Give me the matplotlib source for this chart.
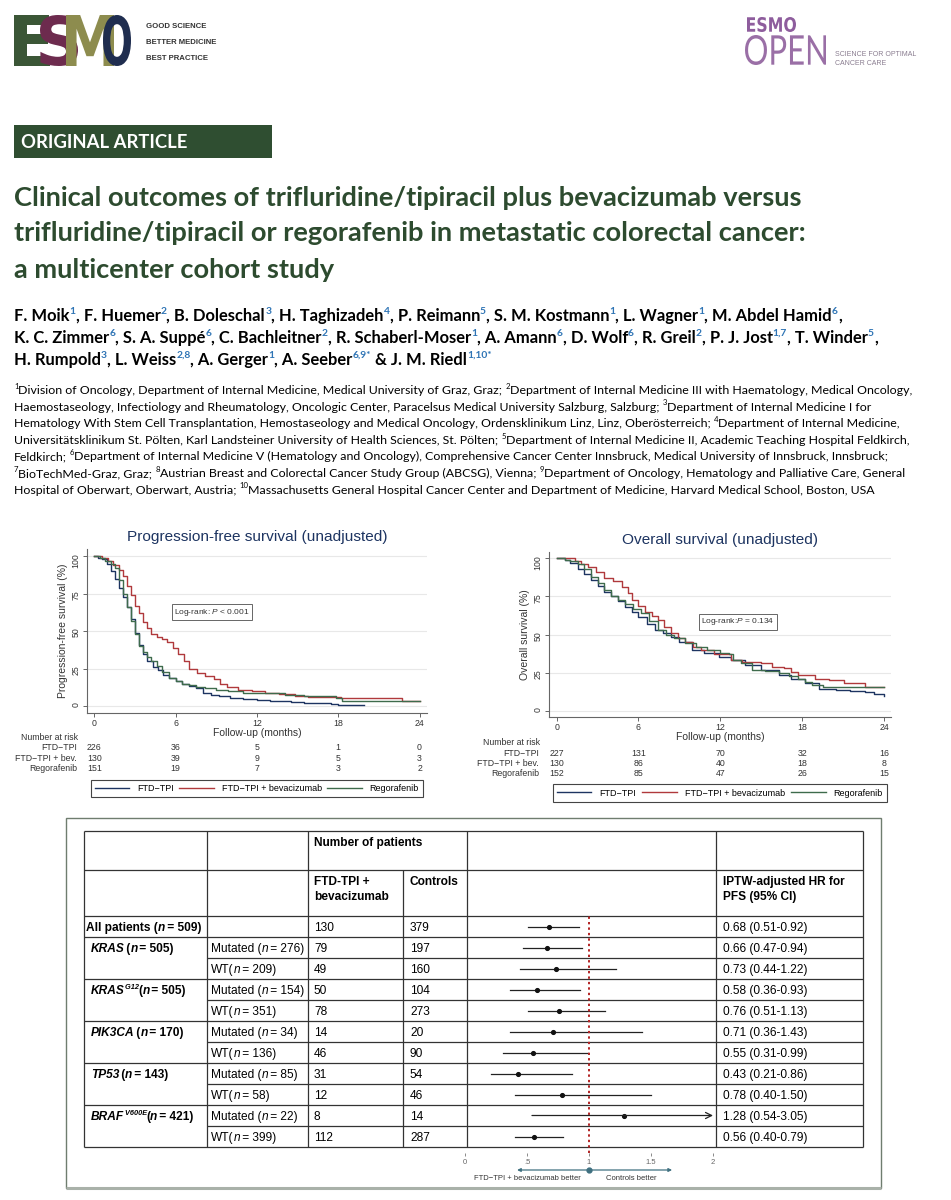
import re

import matplotlib.pyplot as plt
import numpy as np
from matplotlib import font_manager
from matplotlib.font_manager import FontProperties
from matplotlib.patches import PathPatch, Rectangle
from matplotlib.textpath import TextPath
from matplotlib.transforms import Affine2D, blended_transform_factory

# ---------------- page text ----------------
title_lines = [
    "Clinical outcomes of trifluridine/tipiracil plus bevacizumab versus",
    "trifluridine/tipiracil or regorafenib in metastatic colorectal cancer:",
    "a multicenter cohort study",
]

author_lines = [
    [("F. Moik", "1"), ("F. Huemer", "2"), ("B. Doleschal", "3"), ("H. Taghizadeh", "4"),
     ("P. Reimann", "5"), ("S. M. Kostmann", "1"), ("L. Wagner", "1"), ("M. Abdel Hamid", "6")],
    [("K. C. Zimmer", "6"), ("S. A. Suppé", "6"), ("C. Bachleitner", "2"), ("R. Schaberl-Moser", "1"),
     ("A. Amann", "6"), ("D. Wolf", "6"), ("R. Greil", "2"), ("P. J. Jost", "1,7"), ("T. Winder", "5")],
    [("H. Rumpold", "3"), ("L. Weiss", "2,8"), ("A. Gerger", "1"), ("A. Seeber", "6,9*"),
     ("J. M. Riedl", "1,10*")],
]

affiliation_lines = [
    "{1}Division of Oncology, Department of Internal Medicine, Medical University of Graz, Graz; {2}Department of Internal Medicine III with Haematology, Medical Oncology,",
    "Haemostaseology, Infectiology and Rheumatology, Oncologic Center, Paracelsus Medical University Salzburg, Salzburg; {3}Department of Internal Medicine I for",
    "Hematology With Stem Cell Transplantation, Hemostaseology and Medical Oncology, Ordensklinikum Linz, Linz, Oberösterreich; {4}Department of Internal Medicine,",
    "Universitätsklinikum St. Pölten, Karl Landsteiner University of Health Sciences, St. Pölten; {5}Department of Internal Medicine II, Academic Teaching Hospital Feldkirch,",
    "Feldkirch; {6}Department of Internal Medicine V (Hematology and Oncology), Comprehensive Cancer Center Innsbruck, Medical University of Innsbruck, Innsbruck;",
    "{7}BioTechMed-Graz, Graz; {8}Austrian Breast and Colorectal Cancer Study Group (ABCSG), Vienna; {9}Department of Oncology, Hematology and Palliative Care, General",
    "Hospital of Oberwart, Oberwart, Austria; {10}Massachusetts General Hospital Cancer Center and Department of Medicine, Harvard Medical School, Boston, USA",
]

# ---------------- Kaplan-Meier curves (months, % event free) ----------------
arm_labels = ["FTD\u2212TPI", "FTD\u2212TPI + bevacizumab", "Regorafenib"]
arm_short = ["FTD\u2212TPI", "FTD\u2212TPI + bev.", "Regorafenib"]
risk_times = [0, 6, 12, 18, 24]

pfs_ftd_t = [0, 0.3, 0.6, 0.9, 1.2, 1.5, 1.8, 2.1, 2.4, 2.7, 3.0, 3.3, 3.6, 3.9, 4.3, 4.7, 5.1, 5.5, 6.0, 6.5,
             7.0, 7.5, 8.0, 8.6, 9.2, 10.0, 11.0, 12.0, 13.0, 14.5, 15.5, 17.5, 18.0, 19.9]
pfs_ftd_s = [100, 99, 98, 95, 90, 85, 79, 73, 66, 58, 49, 41, 35, 30, 26, 24, 21, 19, 17, 15,
             13.5, 12, 9, 7.5, 6.5, 5.5, 4.8, 4.2, 3.5, 2.5, 1.8, 1.6, 0.9, 0.9]
pfs_bev_t = [0, 0.6, 1.0, 1.4, 1.8, 2.1, 2.4, 2.7, 3.0, 3.3, 3.6, 3.9, 4.2, 4.6, 5.0, 5.4, 5.8, 6.2, 6.6, 7.0,
             7.6, 8.2, 8.8, 9.3, 9.8, 10.6, 11.6, 12.6, 13.6, 14.8, 15.8, 18.2, 22.7, 24]
pfs_bev_s = [100, 99, 97, 94, 91, 87, 80, 74, 67, 62, 56, 52, 48, 46, 45, 43, 39, 35, 30, 25,
             22, 20, 18, 15, 12.5, 11, 10, 9, 8, 7, 6, 5, 3.6, 3.6]
pfs_reg_t = [0, 0.4, 0.8, 1.2, 1.5, 1.8, 2.1, 2.4, 2.7, 3.0, 3.3, 3.6, 3.9, 4.2, 4.6, 5.0, 5.5, 6.0, 6.5, 7.0,
             7.5, 8.2, 9.0, 9.9, 11.0, 12.5, 14.1, 15.5, 17.8, 18.3, 24]
pfs_reg_s = [100, 99, 97, 95, 92, 84, 75, 66, 57, 48, 40, 36, 33, 30, 27, 23, 19, 17, 15, 14,
             13, 12, 11, 9.8, 9, 8.5, 7.5, 6.5, 5.3, 3.5, 3.5]
pfs_at_risk = [[226, 36, 5, 1, 0], [130, 39, 9, 5, 3], [151, 19, 7, 3, 2]]

os_ftd_t = [0, 0.6, 1.0, 1.6, 2.0, 2.5, 3.0, 3.5, 4.0, 4.5, 5.0, 5.5, 6.0, 6.6, 7.2, 7.8, 8.4, 9.0, 9.9, 10.8,
            11.9, 12.8, 13.8, 15.0, 16.3, 17.2, 18.2, 19.2, 20.5, 21.5, 22.6, 23.3, 24]
os_ftd_s = [100, 99, 97, 93, 90, 86, 82, 78, 75, 72, 68, 65, 61.7, 57, 53, 51, 48.6, 45, 40, 38,
            35.4, 33, 30, 27, 23.4, 20.5, 17.9, 14.5, 13.6, 13, 12.5, 11, 9.6]
os_bev_t = [0, 1.35, 1.8, 2.3, 2.9, 3.5, 4.1, 4.8, 5.2, 5.5, 6.0, 6.5, 7.0, 7.45, 7.9, 8.4, 8.9, 9.4, 10.0, 10.6,
            11.5, 12.8, 13.6, 15.0, 15.8, 16.7, 17.2, 17.7, 18.95, 20.0, 21.1, 22.6, 24]
os_bev_s = [100, 98, 96, 94, 91, 87, 85, 81, 77, 72.6, 69, 65, 62, 59.5, 55, 50.8, 48, 45, 42, 39.8,
            37, 33, 32, 31, 29, 27.8, 25.5, 23.4, 21, 20, 17.9, 15.7, 15.7]
os_reg_t = [0, 0.6, 1.0, 1.6, 2.0, 2.5, 3.0, 3.5, 4.0, 4.5, 5.0, 5.6, 6.2, 6.8, 7.4, 8.0, 8.6, 9.4, 10.2, 11.0,
            12.0, 12.6, 12.9, 13.5, 14.3, 15.3, 16.3, 17.0, 17.7, 18.2, 18.7, 19.5, 24]
os_reg_s = [100, 99, 98, 96, 93, 88, 84, 79, 75.5, 72.6, 70, 67, 63.9, 59, 53, 50, 47.5, 44.4, 42, 40,
            38, 37, 33.5, 31, 27, 26, 24.5, 23, 21, 19, 16.8, 15.7, 15.7]
os_at_risk = [[227, 131, 70, 32, 16], [130, 86, 40, 18, 8], [152, 85, 47, 26, 15]]

# ---------------- subgroup forest table ----------------
all_n = 509
genes = ["KRAS", "KRAS", "PIK3CA", "TP53", "BRAF"]
gene_sup = ["", "G12", "", "", "V600E"]
gene_n = [505, 505, 170, 143, 421]
sub_kind = ["", "Mutated", "WT", "Mutated", "WT", "Mutated", "WT", "Mutated", "WT", "Mutated", "WT"]
sub_n = [None, 276, 209, 154, 351, 34, 136, 85, 58, 22, 399]
n_bev = [130, 79, 49, 50, 78, 14, 46, 31, 12, 8, 112]
n_ctrl = [379, 197, 160, 104, 273, 20, 90, 54, 46, 14, 287]
hr = [0.68, 0.66, 0.73, 0.58, 0.76, 0.71, 0.55, 0.43, 0.78, 1.28, 0.56]
hr_lo = [0.51, 0.47, 0.44, 0.36, 0.51, 0.36, 0.31, 0.21, 0.40, 0.54, 0.40]
hr_hi = [0.92, 0.94, 1.22, 0.93, 1.13, 1.43, 0.99, 0.86, 1.50, 3.05, 0.79]
hr_ticks = [0, 0.5, 1, 1.5, 2]
hr_tick_labels = ["0", ".5", "1", "1.5", "2"]

# ---------------- styling ----------------
W, H = 951, 1200
GREEN_DARK = "#2d4b2f"
NAVY = "#1d3461"
arm_colors = [NAVY, "#b0393c", "#3e6b4c"]

plt.rcParams["font.family"] = "Liberation Sans"
plt.rcParams["mathtext.fontset"] = "custom"
plt.rcParams["mathtext.rm"] = "Liberation Sans"
plt.rcParams["mathtext.it"] = "Liberation Sans:italic"

installed = {f.name for f in font_manager.fontManager.ttflist}
NARROW = "Liberation Sans Narrow" if "Liberation Sans Narrow" in installed else "Liberation Sans"
TABLE_FS = 10 if NARROW == "Liberation Sans Narrow" else 8.6

fig = plt.figure(figsize=(W / 100, H / 100), dpi=100)
bg = fig.add_axes([0, 0, 1, 1])
bg.set_xlim(0, W)
bg.set_ylim(H, 0)
bg.axis("off")
rend = fig.canvas.get_renderer()


def px_axes(x0, y0, x1, y1):
    return fig.add_axes([x0 / W, 1 - y1 / H, (x1 - x0) / W, (y1 - y0) / H])


def draw_runs(x, y, runs, size, family, color="black", sup_color=None):
    # pieces written one after another on one baseline; b=bold, i=italic, s=superscript
    for txt, fmt in runs:
        sup = "s" in fmt
        fs = size * 0.62 if sup else size
        t = bg.text(x, y - 0.42 * size * 100 / 72 if sup else y, txt.rstrip(),
                    fontsize=fs, family=family,
                    fontweight="bold" if "b" in fmt else "normal",
                    fontstyle="italic" if "i" in fmt else "normal",
                    color=(sup_color or color) if sup else color, va="baseline")
        x += t.get_window_extent(rend).width
        # trailing blanks are not measured, so add them by hand
        x += (len(txt) - len(txt.rstrip())) * 0.24 * fs * 100 / 72
        if "i" in fmt:
            x -= 0.12 * fs * 100 / 72  # italic extents come out a bit wide
    return x


def fit_glyphs(s, box, color, weight="bold", family="DejaVu Sans"):
    x0, y0, x1, y1 = box
    tp = TextPath((0, 0), s, size=10, prop=FontProperties(family=family, weight=weight))
    e = tp.get_extents()
    tr = (Affine2D().translate(-e.x0, -e.y0)
          .scale((x1 - x0) / e.width, -(y1 - y0) / e.height)
          .translate(x0, y1))
    bg.add_patch(PathPatch(tr.transform_path(tp), fc=color, ec="none"))


# ---------------- header ----------------
fit_glyphs("E", (14, 15, 50, 66), "#3b5636")
fit_glyphs("S", (40, 15, 78, 66), "#6d2b4e")
fit_glyphs("M", (66, 15, 114, 66), "#8d8c4e")
fit_glyphs("O", (103, 15, 131, 66), "#1f2d4f")
for txt, y in zip(["GOOD SCIENCE", "BETTER MEDICINE", "BEST PRACTICE"], [28, 44, 60]):
    bg.text(146, y, txt, fontsize=5.6, family=NARROW, fontweight="bold", color="#333", va="baseline")

fit_glyphs("ESMO", (747, 17, 796, 32), "#8e5d9d")
fit_glyphs("OPEN", (745, 35, 826, 65), "#9a6fa6", weight="normal", family="Lato")
bg.text(835, 56, "SCIENCE FOR OPTIMAL", fontsize=5, family=NARROW, color="#8a7d90", va="baseline")
bg.text(835, 65, "CANCER CARE", fontsize=5, family=NARROW, color="#8a7d90", va="baseline")

bg.add_patch(Rectangle((14, 125), 258, 33, fc="#2f4e31", ec="none"))
bg.text(21, 148, "ORIGINAL ARTICLE", fontsize=13.3, family="Lato", fontweight="bold",
        color="white", va="baseline")

for line, y in zip(title_lines, [206, 241, 278]):
    bg.text(14, y, line, fontsize=19.6, family="Lato", fontweight="bold", color=GREEN_DARK, va="baseline")

last = author_lines[-1][-1]
for k, line in enumerate(author_lines):
    runs = []
    for j, (name, aff) in enumerate(line):
        sep = "" if j == 0 else (" & " if (name, aff) == last else ", ")
        runs += [(sep + name, "b"), (aff, "bs")]
    if k < len(author_lines) - 1:
        runs.append((",", "b"))
    draw_runs(14, 321 + 22 * k, runs, 11.9, "Lato", sup_color="#2e74b5")

for k, line in enumerate(affiliation_lines):
    parts = re.split(r"\{(.*?)\}", line)
    runs = [(part, "s" if p % 2 else "") for p, part in enumerate(parts) if part]
    draw_runs(14, 394 + 16.6 * k, runs, 8.95, "Lato")


# ---------------- Kaplan-Meier panels ----------------
def km_panel(box, xlim, ylim, title, ylabel, curves, at_risk, logrank, logrank_xy,
             legend_box, risk_right, risk_y):
    ax = px_axes(*box)
    handles = []
    for (t, s), col in zip(curves, arm_colors):
        h, = ax.plot(t, s, drawstyle="steps-post", color=col, lw=1.0)
        handles.append(h)
    ax.set_xlim(*xlim)
    ax.set_ylim(*ylim)
    ax.set_xticks(risk_times)
    ax.set_yticks([0, 25, 50, 75, 100])
    ax.grid(axis="y", color="#e8e8e8", lw=0.8)
    ax.set_axisbelow(True)
    for sp in ("top", "right"):
        ax.spines[sp].set_visible(False)
    for sp in ("left", "bottom"):
        ax.spines[sp].set_color("#666")
        ax.spines[sp].set_linewidth(0.8)
    ax.tick_params(colors="#666", labelcolor="#333", labelsize=6.3, length=3, width=0.7, pad=1.5)
    ax.tick_params(axis="y", labelrotation=90)
    ax.set_title(title, fontsize=11.1, color=NAVY, pad=6)
    ax.set_ylabel(ylabel, fontsize=7.5, color="#333", labelpad=3)
    ax.set_xlabel("Follow-up (months)", fontsize=7.5, color="#333", labelpad=0)
    ax.text(*logrank_xy, logrank, fontsize=6, color="#333", ha="center", va="center",
            bbox=dict(boxstyle="square,pad=0.3", fc="white", ec="#666", lw=0.7))

    tr = blended_transform_factory(ax.transData, bg.transData)
    bg.text(risk_right + 1, risk_y[0] - 10.5, "Number at risk", fontsize=6.3, color="#333",
            ha="right", va="center")
    for label, row, y in zip(arm_short, at_risk, risk_y):
        bg.text(risk_right, y, label, fontsize=6.3, color="#333", ha="right", va="center")
        for t, n in zip(risk_times, row):
            ax.text(t, y, str(n), transform=tr, fontsize=6.3, color="#333", ha="center", va="center")

    x0, y0, x1, y1 = legend_box
    leg = ax.legend(handles, arm_labels, ncol=3, mode="expand", loc="center",
                    bbox_to_anchor=(x0 / W, 1 - y1 / H, (x1 - x0) / W, (y1 - y0) / H),
                    bbox_transform=fig.transFigure, fontsize=6.5, fancybox=False, framealpha=1,
                    edgecolor="#444", handlelength=3.8, handletextpad=0.9, borderpad=0.45,
                    borderaxespad=0, columnspacing=1.0)
    leg.get_frame().set_linewidth(0.8)
    return ax


km_panel((87, 549, 427, 713), (-0.54, 24.55), (-4.7, 105),
         "Progression-free survival (unadjusted)", "Progression-free survival (%)",
         [(pfs_ftd_t, pfs_ftd_s), (pfs_bev_t, pfs_bev_s), (pfs_reg_t, pfs_reg_s)], pfs_at_risk,
         r"Log-rank: $P$ < 0.001", (8.7, 62.6), (91, 779, 423, 798), 77, [748, 758.5, 768.5])

km_panel((549, 552, 891, 717), (-0.56, 24.51), (-4.1, 104.1),
         "Overall survival (unadjusted)", "Overall survival (%)",
         [(os_ftd_t, os_ftd_s), (os_bev_t, os_bev_s), (os_reg_t, os_reg_s)], os_at_risk,
         r"Log-rank:$P$ = 0.134", (13.3, 58.5), (553, 784, 887, 802), 539, [753, 763.5, 774])

# ---------------- forest table ----------------
bg.add_patch(Rectangle((66, 818), 881 - 66, 1188 - 818, fc="none", ec="#6f7d6f", lw=1.0))
bg.plot([66, 881], [1188, 1188], color="#a9b1a9", lw=2.2, solid_capstyle="butt")

cols = [84, 207, 308, 403, 467, 716, 863]
top, head1, head2, row_h = 831, 870, 916, 21
n_rows = len(hr)
bottom = head2 + row_h * n_rows
line_kw = dict(color="#333", lw=0.9, solid_capstyle="butt")

for y in (top, head1, head2, bottom):
    bg.plot([cols[0], cols[-1]], [y, y], **line_kw)
for i in range(1, n_rows):
    y = head2 + row_h * i
    bg.plot([cols[0] if sub_kind[i] != "WT" else cols[1], cols[-1]], [y, y], **line_kw)
for x in cols:
    bg.plot([x, x], [head1 if x == cols[3] else top, bottom], **line_kw)

bg.text(314, 846, "Number of patients", fontsize=TABLE_FS, family=NARROW, fontweight="bold", va="baseline")
for txt, x, y in [("FTD-TPI +", 314, 885), ("bevacizumab", 314, 900), ("Controls", 410, 885),
                  ("IPTW-adjusted HR for", 723, 885), ("PFS (95% CI)", 723, 900)]:
    bg.text(x, y, txt, fontsize=TABLE_FS, family=NARROW, fontweight="bold", va="baseline")

g = 0
for i in range(n_rows):
    base = head2 + row_h * i + 15
    if i == 0:
        draw_runs(86, base, [("All patients (", "b"), ("n", "bi"), (f" = {all_n})", "b")], TABLE_FS, NARROW)
    else:
        if sub_kind[i] == "Mutated":
            runs = [(genes[g], "bi")]
            runs += [(" " + gene_sup[g], "bis"), ("(", "b")] if gene_sup[g] else [(" (", "b")]
            runs += [("n", "bi"), (f" = {gene_n[g]})", "b")]
            draw_runs(91, base, runs, TABLE_FS, NARROW)
            g += 1
        lead = "Mutated (" if sub_kind[i] == "Mutated" else "WT("
        draw_runs(211, base, [(lead, ""), ("n", "i"), (f" = {sub_n[i]})", "")], TABLE_FS, NARROW)
    bg.text(314, base, str(n_bev[i]), fontsize=TABLE_FS, family=NARROW, va="baseline")
    bg.text(410, base, str(n_ctrl[i]), fontsize=TABLE_FS, family=NARROW, va="baseline")
    bg.text(723, base, f"{hr[i]:.2f} ({hr_lo[i]:.2f}-{hr_hi[i]:.2f})", fontsize=TABLE_FS,
            family=NARROW, va="baseline")

# forest plot in its column, rows in row units
fx = px_axes(465, head2, 713, 1153)
fx.set_xlim(0, 2)
fx.set_ylim((1153 - head2) / row_h - 0.5, -0.5)
fx.patch.set_visible(False)
for sp in fx.spines.values():
    sp.set_visible(False)
fx.set_yticks([])
fx.set_xticks(hr_ticks, hr_tick_labels)
fx.tick_params(axis="x", length=2.5, width=0.6, color="#777", labelsize=5.5, labelcolor="#666", pad=1.5)

rows = np.arange(n_rows)
xmax = fx.get_xlim()[1]
for r, lo, hi in zip(rows, hr_lo, hr_hi):
    if hi > xmax:
        fx.annotate("", xy=(xmax, r), xytext=(lo, r),
                    arrowprops=dict(arrowstyle="->", lw=0.9, color="#222", mutation_scale=11,
                                    shrinkA=0, shrinkB=0))
    else:
        fx.plot([lo, hi], [r, r], color="#222", lw=0.9)
fx.plot(hr, rows, "o", ms=2.7, color="#111")
fx.axvline(1, color="#b22222", lw=1.4, ls=(0, (1.2, 1.6)))

tr_f = blended_transform_factory(fx.transData, bg.transData)
fx.annotate("", xy=(0.42, 1170), xytext=(1.67, 1170), xycoords=tr_f, textcoords=tr_f,
            arrowprops=dict(arrowstyle="<|-|>", lw=0.9, color="#3f7080", mutation_scale=5,
                            shrinkA=0, shrinkB=0), annotation_clip=False)
fx.plot([1], [1170], "o", ms=3.5, color="#3f7080", transform=tr_f, clip_on=False)
fx.text(0.5, 1179, "FTD\u2212TPI + bevacizumab better", transform=tr_f, fontsize=5.5,
        color="#333", ha="center", va="center")
fx.text(1.34, 1179, "Controls better", transform=tr_f, fontsize=5.5, color="#333",
        ha="center", va="center")

fig.savefig("out.png", dpi=100, facecolor="white")
